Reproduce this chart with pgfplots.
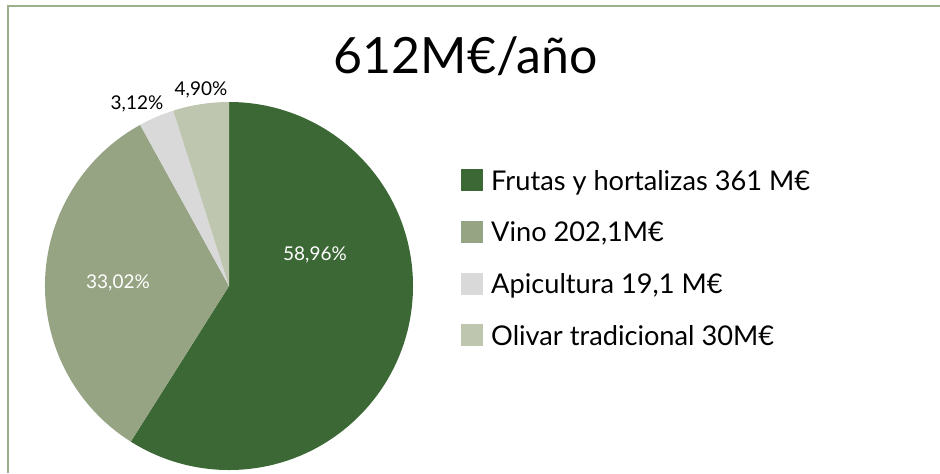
\documentclass[border=0pt]{standalone}
\usepackage{pgfplots}
\pgfplotsset{compat=1.18}
\usepackage{fontspec}
\setmainfont{Lato}
\definecolor{cFrut}{RGB}{59,104,53}
\definecolor{cVino}{RGB}{150,164,132}
\definecolor{cApi}{RGB}{217,217,217}
\definecolor{cOli}{RGB}{190,198,176}
\definecolor{cFrame}{RGB}{155,175,140}
% slice values (percent)
\def\vFrut{58.96}
\def\vVino{33.02}
\def\vApi{3.12}
\def\vOli{4.90}
\pgfmathsetmacro{\aA}{90}
\pgfmathsetmacro{\aB}{\aA-3.6*\vFrut}
\pgfmathsetmacro{\aC}{\aB-3.6*\vVino}
\pgfmathsetmacro{\aD}{\aC-3.6*\vApi}
\pgfmathsetmacro{\aE}{\aD-3.6*\vOli}
\def\R{92pt}
\begin{document}
\begin{tikzpicture}
\begin{axis}[
  x=0.5pt, y=0.5pt,
  xmin=0, xmax=940, ymin=0, ymax=473,
  scale only axis, hide axis,
  anchor=origin, at={(0,0)},
  clip=false,
  legend style={at={(axis cs:461,304)}, anchor=north west, draw=none, fill=none,
    font=\fontsize{13.6}{16}\selectfont, row sep=10.9pt, inner sep=0pt,
    nodes={inner sep=0pt, text height=10pt, text depth=4.5pt, anchor=base west}},
  legend cell align=left,
  legend image code/.code={\fill[#1] (0pt,-0.3pt) rectangle (10.5pt,10.2pt);},
]
\addlegendimage{cFrut}
\addlegendentry{\hspace{4pt}Frutas y hortalizas 361 M€}
\addlegendimage{cVino}
\addlegendentry{\hspace{4pt}Vino 202,1M€}
\addlegendimage{cApi}
\addlegendentry{\hspace{4pt}Apicultura 19,1 M€}
\addlegendimage{cOli}
\addlegendentry{\hspace{4pt}Olivar tradicional 30M€}
% pie slices
\fill[cFrut] (axis cs:229,187) -- ++(\aA:\R) arc[start angle=\aA, end angle=\aB, radius=\R] -- cycle;
\fill[cVino] (axis cs:229,187) -- ++(\aB:\R) arc[start angle=\aB, end angle=\aC, radius=\R] -- cycle;
\fill[cApi] (axis cs:229,187) -- ++(\aC:\R) arc[start angle=\aC, end angle=\aD, radius=\R] -- cycle;
\fill[cOli] (axis cs:229,187) -- ++(\aD:\R) arc[start angle=\aD, end angle=\aE, radius=\R] -- cycle;
% frame
\draw[cFrame, line width=0.7pt] (axis cs:8,0) -- (axis cs:8,467) -- (axis cs:940,467);
% title
\node[anchor=base, font=\fontsize{25}{30}\selectfont] at (axis cs:466,400) {612M€/año};
% labels
\node[white, font=\fontsize{9.5}{11}\selectfont] at (axis cs:315,218) {58,96\%};
\node[white, font=\fontsize{9.5}{11}\selectfont] at (axis cs:118,190) {33,02\%};
\node[black, font=\fontsize{9.5}{11}\selectfont] at (axis cs:137,369) {3,12\%};
\node[black, font=\fontsize{9.5}{11}\selectfont] at (axis cs:201,383) {4,90\%};
\end{axis}
\pgfresetboundingbox
\useasboundingbox (0,0) rectangle (470pt,236.5pt);
\end{tikzpicture}
\end{document}
